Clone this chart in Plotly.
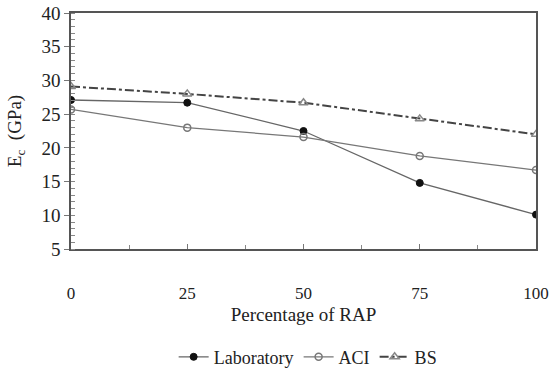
import plotly.graph_objects as go

rap_pct = [0, 25, 50, 75, 100]
laboratory = [27.1, 26.7, 22.5, 14.8, 10.1]
aci = [25.7, 23.0, 21.6, 18.8, 16.7]
bs = [29.1, 28.0, 26.7, 24.3, 22.0]

x_ticks = [0, 25, 50, 75, 100]
y_ticks = [5, 10, 15, 20, 25, 30, 35, 40]

serif = "Liberation Serif"

fig = go.Figure()
fig.add_trace(go.Scatter(
    x=rap_pct, y=laboratory, name="Laboratory", mode="lines+markers",
    line=dict(color="#666666", width=1.3),
    marker=dict(symbol="circle", size=7, color="#111111",
                line=dict(color="#111111", width=1)),
))
fig.add_trace(go.Scatter(
    x=rap_pct, y=aci, name="ACI", mode="lines+markers",
    line=dict(color="#777777", width=1.3),
    marker=dict(symbol="circle-open", size=7, color="#777777",
                line=dict(color="#777777", width=1.5)),
))
fig.add_trace(go.Scatter(
    x=rap_pct, y=bs, name="BS", mode="lines+markers",
    line=dict(color="#444444", width=2, dash="dashdot"),
    marker=dict(symbol="triangle-up-open", size=8, color="#888888",
                line=dict(color="#888888", width=1.5)),
))

fig.update_layout(
    width=549, height=372,
    margin=dict(l=71, r=13, t=13, b=123, autoexpand=False),
    paper_bgcolor="white", plot_bgcolor="white",
    font=dict(family=serif, size=19, color="#222222"),
    showlegend=True,
    legend=dict(orientation="h", x=0.51, xanchor="center",
                yref="container", y=0.04, yanchor="middle",
                font=dict(family=serif, size=18),
                itemwidth=30, tracegroupgap=0),
)
fig.update_xaxes(
    range=[0, 100], tickvals=x_ticks, ticktext=[str(v) for v in x_ticks],
    automargin=False, tickfont=dict(family=serif, size=17),
    ticklabeloverflow="allow",
    showgrid=False, zeroline=False, showline=True, linecolor="#555555",
    linewidth=1.5, mirror=True, ticks="inside", ticklen=5, tickcolor="#777777",
    ticklabelstandoff=28,
    minor=dict(dtick=12.5, ticks="inside", ticklen=4, tickcolor="#888888"),
    title=dict(text="Percentage of RAP", font=dict(family=serif, size=19),
               standoff=6),
)
fig.update_yaxes(
    range=[5, 40], tickvals=y_ticks, ticktext=[str(v) for v in y_ticks],
    automargin=False, tickfont=dict(family=serif, size=19),
    ticklabeloverflow="allow",
    showgrid=False, zeroline=False, showline=True, linecolor="#555555",
    linewidth=1.5, mirror=True, ticks="outside", ticklen=5, tickcolor="#777777",
    ticklabelstandoff=0,
    minor=dict(dtick=1, ticks="inside", ticklen=4, tickcolor="#888888"),
    title=dict(text="E<sub>c</sub>  (GPa)", font=dict(family=serif, size=19),
               standoff=15),
)

fig.write_html("out.html")
